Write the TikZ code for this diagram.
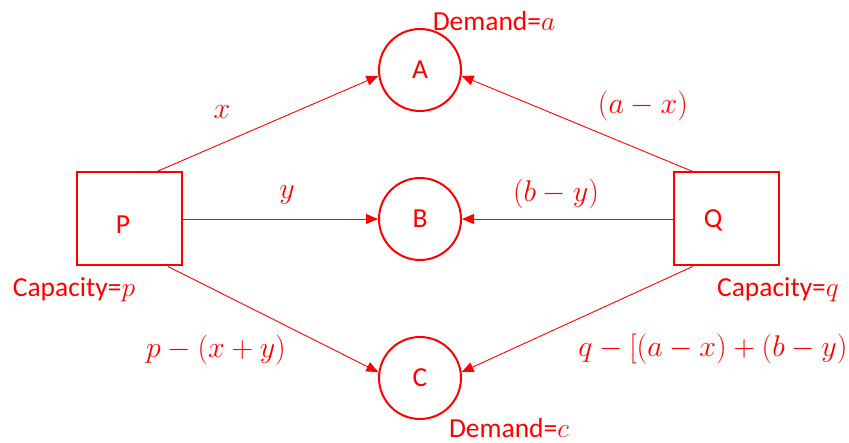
\documentclass[tikz,border=0pt]{standalone}
\usepackage{fix-cm}
\usepackage{fontspec}
\setmainfont{Carlito}
\usetikzlibrary{arrows.meta}
\begin{document}
\begin{tikzpicture}[x=1pt,y=-1pt,
  every node/.style={text=red,font=\fontsize{27.5}{32}\selectfont},
  boxnode/.style={draw=red,line width=2pt,minimum width=105pt,minimum height=93pt,inner sep=0pt},
  dnode/.style={draw=red,line width=2pt,circle,minimum size=82pt,inner sep=0pt},
  lbl/.style={inner sep=0pt,anchor=center},
  mlbl/.style={lbl,font=\fontsize{30}{34}\selectfont},
  flow/.style={draw=red,line width=0.9pt,-{Triangle[length=12pt,width=10pt]}}]
\useasboundingbox (0,0) rectangle (849,443);
\node[dnode] (A) at (420,70) {A};
\node[dnode] (B) at (420,219) {B};
\node[dnode] (C) at (420,378) {C};
\node[boxnode] (P) at (129.5,219) {};
\node[boxnode] (Q) at (726,219) {};
\node[lbl] (Pt) at (123,225) {P};
\node[lbl] (Qt) at (713,220) {Q};
\node[lbl] (capp) at (74,290) {Capacity=$p$};
\node[lbl] (capq) at (778,290) {Capacity=$q$};
\node[lbl] (dema) at (494,21) {Demand=$a$};
\node[lbl] (demc) at (509,428) {Demand=$c$};
\node[mlbl] (lx) at (222,112) {$x$};
\node[mlbl] (ly) at (287,195) {$y$};
\node[mlbl] (lax) at (643,106) {$(a-x)$};
\node[mlbl] (lby) at (556,194) {$(b-y)$};
\node[mlbl] (lpc) at (216,350) {$p-(x+y)$};
\node[mlbl] (lqc) at (713,349) {$q-[(a-x)+(b-y)$};
\draw[flow] (P.60) -- (A.188);
\draw[flow] (P.east) -- (B.west);
\draw[flow] (P.-51) -- (C.172);
\draw[flow] (Q.125) -- (A.-8);
\draw[flow] (Q.west) -- (B.east);
\draw[flow] (Q.235) -- (C.8);
\end{tikzpicture}
\end{document}
